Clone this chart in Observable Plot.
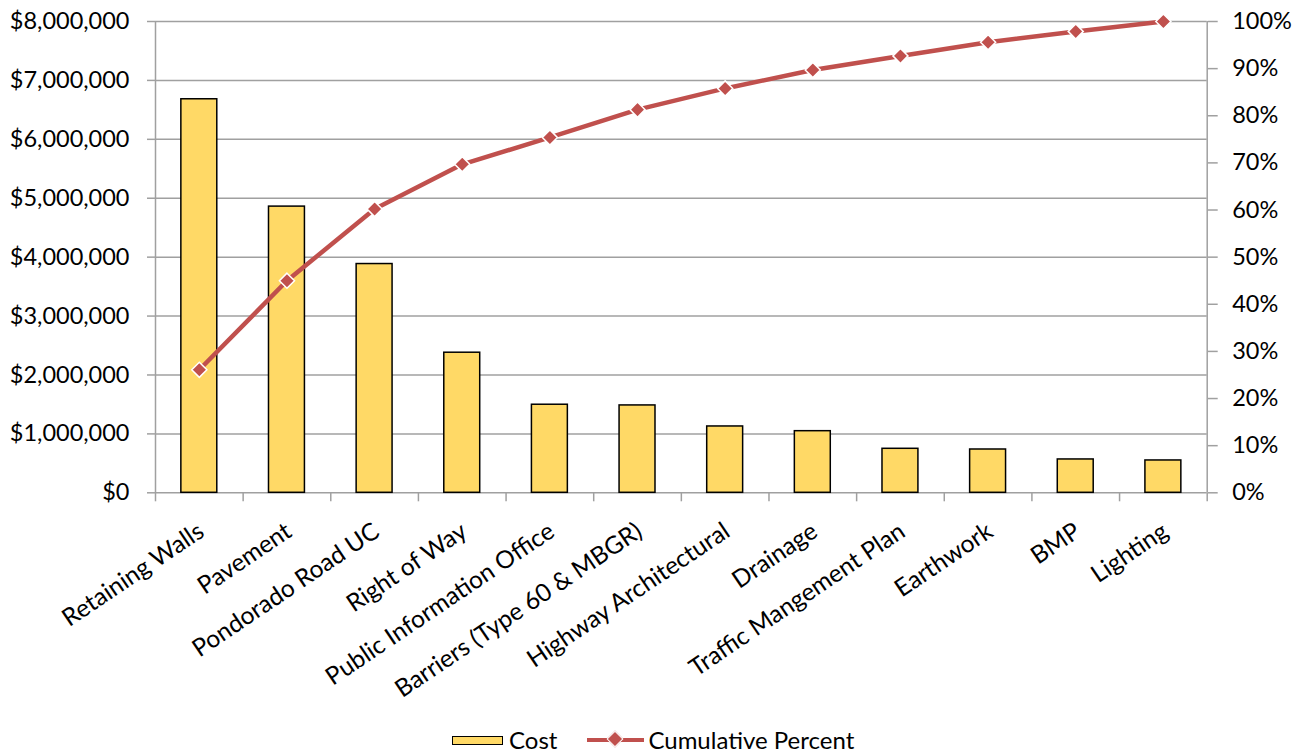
<!DOCTYPE html>
<html><head><meta charset="utf-8">
<script src="https://cdn.jsdelivr.net/npm/d3@7"></script>
<script src="https://cdn.jsdelivr.net/npm/@observablehq/plot@0.6"></script>
<style>
body{margin:0;background:#fff;font-family:Lato,"Noto Sans",sans-serif;}
#chart{position:relative;width:1302px;height:754px;overflow:hidden;}
#chart svg text{fill:#000;}
#legend{position:absolute;top:726px;left:452px;height:28px;display:flex;justify-content:flex-start;align-items:center;font-size:24px;color:#000;line-height:28px;white-space:nowrap;}
.sw-bar{width:49px;height:7px;background:#ffd966;border:1.5px solid #000;margin-right:6px;}
.sw-line{position:relative;width:57px;height:28px;margin-left:30px;margin-right:4px;}
.sw-line .ln{position:absolute;left:0;right:0;top:12px;height:4px;background:#c0504d;}
.sw-line .dm{position:absolute;left:22px;top:7px;width:10px;height:10px;background:#c0504d;border:1.5px solid #fff;transform:rotate(45deg);}
</style></head><body>
<div id="chart"></div>
<script>
const categories = ["Retaining Walls","Pavement","Pondorado Road UC","Right of Way","Public Information Office","Barriers (Type 60 & MBGR)","Highway Architectural","Drainage","Traffic Mangement Plan","Earthwork","BMP","Lighting"];
const costs = [6680000, 4858000, 3883000, 2378000, 1495000, 1483000, 1126000, 1046000, 747000, 735000, 566000, 549000];
const cumulativePercent = [26.1, 45.0, 60.2, 69.7, 75.4, 81.3, 85.8, 89.7, 92.7, 95.6, 97.9, 100];
const costTicks = [0, 1000000, 2000000, 3000000, 4000000, 5000000, 6000000, 7000000, 8000000];
const percentTicks = [0, 10, 20, 30, 40, 50, 60, 70, 80, 90, 100];
const costMax = 8000000;

const W = 1302, H = 726;
const mL = 155, mR = 95.3, mT = 21, mB = H - 492.3;
const step = (W - mL - mR) / categories.length;

const rows = categories.map((c, i) => ({cat: c, cost: costs[i], pct: cumulativePercent[i], pctY: cumulativePercent[i] / 100 * costMax}));
const pctScale = costMax / 100;
const grid = "#a0a0a0";

const plot = Plot.plot({
  width: W, height: H,
  marginLeft: mL, marginRight: mR, marginTop: mT, marginBottom: mB,
  style: {fontFamily: "Lato, 'Noto Sans', sans-serif", fontSize: "23px", background: "#fff", color: "#000"},
  x: {domain: categories, paddingInner: 0.59, paddingOuter: 0.295, round: false, axis: null},
  y: {domain: [0, costMax], axis: null},
  marks: [
    Plot.gridY(costTicks, {stroke: grid, strokeOpacity: 1, strokeWidth: 1.5}),
    Plot.ruleX([categories[0]], {x: d => d, dx: -step / 2, stroke: grid, strokeWidth: 1.5}),
    Plot.ruleX([categories[categories.length - 1]], {x: d => d, dx: step / 2, stroke: grid, strokeWidth: 1.5}),
    Plot.ruleX(categories, {x: d => d, dx: -step / 2, y1: 0, y2: 0, insetTop: 9, stroke: grid, strokeWidth: 1.5}),
    Plot.ruleX([categories[categories.length - 1]], {x: d => d, dx: step / 2, y1: 0, y2: 0, insetTop: 9, stroke: grid, strokeWidth: 1.5}),
    Plot.axisY(costTicks, {anchor: "left", tickSize: 8, tickPadding: 18, stroke: grid, strokeWidth: 1.5, fill: "#000", tickFormat: d => "$" + d3.format(",")(d), fontSize: 23.5}),
    Plot.axisY(percentTicks.map(p => p * pctScale), {anchor: "right", tickSize: 10, tickPadding: 15, stroke: grid, strokeWidth: 1.5, fill: "#000", tickFormat: d => Math.round(d / pctScale) + "%", fontSize: 23.5}),
    Plot.barY(rows, {x: "cat", y: "cost", fill: "#ffd966", stroke: "#000", strokeWidth: 1.5}),
    Plot.line(rows, {x: "cat", y: "pctY", stroke: "#c0504d", strokeWidth: 4.5}),
    Plot.dot(rows, {x: "cat", y: "pctY", symbol: "diamond2", r: 6.8, fill: "#c0504d", stroke: "#fff", strokeWidth: 1.5}),
    Plot.text(categories, {x: d => d, frameAnchor: "bottom", dx: 2, dy: 36, rotate: -34, textAnchor: "end", lineAnchor: "middle", fill: "#000", fontSize: 24.5})
  ]
});
const chart = document.getElementById("chart");
chart.appendChild(plot);
const legend = document.createElement("div");
legend.id = "legend";
legend.innerHTML = '<div class="sw-bar"></div><span>Cost</span><div class="sw-line"><div class="ln"></div><div class="dm"></div></div><span>Cumulative Percent</span>';
chart.appendChild(legend);
</script>
</body></html>
